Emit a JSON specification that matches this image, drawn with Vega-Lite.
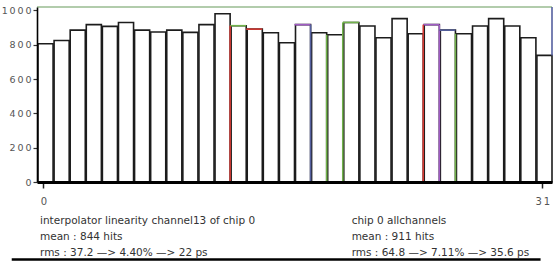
{
  "$schema": "https://vega.github.io/schema/vega-lite/v6.json",
  "autosize": "none",
  "width": 515,
  "height": 175,
  "padding": {"left": 37, "top": 7, "right": 2, "bottom": 80},
  "background": "white",
  "config": {"view": {"stroke": null}, "axis": {"labelOverlap": false}},
  "datasets": {
    "bars": [
      {"bin": 0, "hits": 806}, {"bin": 1, "hits": 825}, {"bin": 2, "hits": 885}, {"bin": 3, "hits": 917},
      {"bin": 4, "hits": 907}, {"bin": 5, "hits": 930}, {"bin": 6, "hits": 885}, {"bin": 7, "hits": 874},
      {"bin": 8, "hits": 885}, {"bin": 9, "hits": 872}, {"bin": 10, "hits": 917}, {"bin": 11, "hits": 981},
      {"bin": 12, "hits": 911}, {"bin": 13, "hits": 891}, {"bin": 14, "hits": 870}, {"bin": 15, "hits": 812},
      {"bin": 16, "hits": 917}, {"bin": 17, "hits": 870}, {"bin": 18, "hits": 858}, {"bin": 19, "hits": 930},
      {"bin": 20, "hits": 909}, {"bin": 21, "hits": 841}, {"bin": 22, "hits": 952}, {"bin": 23, "hits": 864},
      {"bin": 24, "hits": 917}, {"bin": 25, "hits": 885}, {"bin": 26, "hits": 864}, {"bin": 27, "hits": 909},
      {"bin": 28, "hits": 952}, {"bin": 29, "hits": 909}, {"bin": 30, "hits": 841}, {"bin": 31, "hits": 738}
    ],
    "overlay": [
      {"series": "frame", "x": 0, "x2": 32, "y": 1020, "y2": 1020},
      {"series": "d", "x": 32, "x2": 32, "y": 738, "y2": 1020},
      {"series": "a", "x": 12, "x2": 13, "y": 911, "y2": 911},
      {"series": "b", "x": 12, "x2": 12, "y": 0, "y2": 911},
      {"series": "b", "x": 13, "x2": 14, "y": 891, "y2": 891},
      {"series": "c", "x": 16, "x2": 17, "y": 917, "y2": 917},
      {"series": "d", "x": 17, "x2": 17, "y": 0, "y2": 917},
      {"series": "a", "x": 18, "x2": 18, "y": 0, "y2": 858},
      {"series": "a", "x": 19, "x2": 20, "y": 930, "y2": 930},
      {"series": "a", "x": 19, "x2": 19, "y": 0, "y2": 930},
      {"series": "c", "x": 24, "x2": 25, "y": 917, "y2": 917},
      {"series": "b", "x": 24, "x2": 24, "y": 0, "y2": 917},
      {"series": "c", "x": 25, "x2": 25, "y": 0, "y2": 917},
      {"series": "d", "x": 25, "x2": 26, "y": 885, "y2": 885},
      {"series": "a", "x": 26, "x2": 26, "y": 0, "y2": 864}
    ]
  },
  "layer": [
    {
      "data": {"name": "bars"},
      "mark": {"type": "bar", "fill": "white", "stroke": "#1c1c1c", "strokeWidth": 1.6, "opacity": 1},
      "encoding": {
        "x": {
          "field": "bin", "type": "quantitative", "bin": {"binned": true, "step": 1},
          "scale": {"domain": [0, 32], "nice": false, "zero": false},
          "axis": {
            "title": null, "values": [0.4, 31.4], "tickCount": 40, "grid": false, "zindex": 1, "labelOverlap": false,
            "labelExpr": "replace(format(floor(datum.value), 'd'), regexp('([0-9])(?=[0-9])', 'g'), '$1\u2009')",
            "domainColor": "black", "domainWidth": 3,
            "tickColor": "#222", "tickWidth": 1.5, "tickSize": 6,
            "labelFont": "DejaVu Sans", "labelFontSize": 10, "labelColor": "#555", "labelPadding": 8
          }
        },
        "y": {
          "field": "hits", "type": "quantitative",
          "scale": {"domain": [0, 1020], "nice": false},
          "axis": {
            "title": null, "values": [0, 200, 400, 600, 800, 1000], "tickCount": 12, "grid": false, "zindex": 1, "labelOverlap": false,
            "labelExpr": "replace(format(datum.value, 'd'), regexp('([0-9])(?=[0-9])', 'g'), '$1\u2009')",
            "domainColor": "black", "domainWidth": 1.6,
            "tickColor": "#333", "tickWidth": 1.2, "tickSize": 4,
            "labelFont": "DejaVu Sans", "labelFontSize": 9.5, "labelColor": "#555", "labelPadding": 2
          }
        }
      }
    },
    {
      "data": {"name": "overlay"},
      "mark": {"type": "rule", "strokeWidth": 1.6},
      "encoding": {
        "x": {"field": "x", "type": "quantitative"},
        "x2": {"field": "x2"},
        "y": {"field": "y", "type": "quantitative"},
        "y2": {"field": "y2"},
        "color": {
          "field": "series", "type": "nominal", "legend": null,
          "scale": {"domain": ["frame", "a", "b", "c", "d"], "range": ["#98bb90", "#72b24c", "#d63a34", "#a05cc4", "#55609f"]}
        }
      }
    },
    {
      "data": {"values": [{"t": ["interpolator linearity  channel13 of chip 0", "mean : 844 hits", "rms : 37.2 \u2014> 4.40% \u2014> 22 ps"]}]},
      "mark": {"type": "text", "align": "left", "baseline": "top", "font": "DejaVu Sans", "fontSize": 10.5, "lineHeight": 16, "color": "#333", "dx": 3, "dy": 34},
      "encoding": {
        "x": {"datum": 0, "type": "quantitative"},
        "y": {"datum": 0, "type": "quantitative"},
        "text": {"field": "t"}
      }
    },
    {
      "data": {"values": [{"t": ["chip 0 allchannels", "mean : 911 hits", "rms : 64.8 \u2014> 7.11% \u2014> 35.6 ps"]}]},
      "mark": {"type": "text", "align": "left", "baseline": "top", "font": "DejaVu Sans", "fontSize": 10.5, "lineHeight": 16, "color": "#333", "dy": 34},
      "encoding": {
        "x": {"datum": 19.55, "type": "quantitative"},
        "y": {"datum": 0, "type": "quantitative"},
        "text": {"field": "t"}
      }
    },
    {
      "data": {"values": [{}]},
      "mark": {"type": "rule", "color": "black", "strokeWidth": 2.5},
      "encoding": {
        "x": {"datum": -1.57, "type": "quantitative"},
        "x2": {"datum": 31.29},
        "y": {"datum": -452, "type": "quantitative"}
      }
    }
  ]
}
